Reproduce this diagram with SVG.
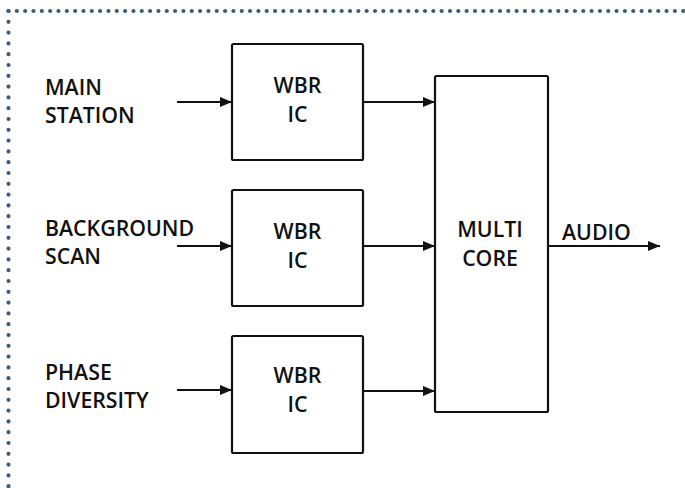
<svg xmlns="http://www.w3.org/2000/svg" width="685" height="488" viewBox="0 0 685 488">
<style>
.box{fill:#fff;stroke:#111;stroke-width:2.2}
.t{font-family:"Open Sans","Noto Sans",sans-serif;font-size:21.3px;font-weight:600;fill:#111}
.c{text-anchor:middle}
.ln{stroke:#111;stroke-width:2.2;fill:none}
.dot{stroke:#3d5b7b;stroke-width:4.2;stroke-linecap:round;fill:none}
</style>
<defs>
<marker id="ah" viewBox="0 0 12 10" refX="12" refY="5" markerWidth="12" markerHeight="10" markerUnits="userSpaceOnUse" orient="auto">
<path d="M0,0 L12,5 L0,10 z" fill="#111"/>
</marker>
</defs>
<rect width="685" height="488" fill="#fff"/>
<g id="border">
<line class="dot" x1="8.5" y1="11" x2="685" y2="11" stroke-dasharray="0 8.33"/>
<line class="dot" x1="8.5" y1="11" x2="8.5" y2="488" stroke-dasharray="0 10.8"/>
</g>
<g id="labels">
<text class="t" x="45" y="95">MAIN</text>
<text class="t" x="45" y="123">STATION</text>
<text class="t" x="45" y="236">BACKGROUND</text>
<text class="t" x="45" y="264">SCAN</text>
<text class="t" x="45" y="380">PHASE</text>
<text class="t" x="45" y="408">DIVERSITY</text>
<text class="t" x="562" y="240">AUDIO</text>
</g>
<g id="wbr1">
<rect class="box" x="232" y="44" width="131" height="116" rx="1.5"/>
<text class="t c" x="297.5" y="93">WBR</text>
<text class="t c" x="297.5" y="122">IC</text>
</g>
<g id="wbr2">
<rect class="box" x="232" y="190" width="131" height="116" rx="1.5"/>
<text class="t c" x="297.5" y="239">WBR</text>
<text class="t c" x="297.5" y="268">IC</text>
</g>
<g id="wbr3">
<rect class="box" x="232" y="336" width="131" height="117" rx="1.5"/>
<text class="t c" x="297.5" y="383">WBR</text>
<text class="t c" x="297.5" y="412">IC</text>
</g>
<g id="multicore">
<rect class="box" x="435" y="76" width="113" height="336" rx="1.5"/>
<text class="t c" x="490" y="237">MULTI</text>
<text class="t c" x="490" y="266">CORE</text>
</g>
<g id="connectors">
<line class="ln" x1="177" y1="102" x2="232" y2="102" marker-end="url(#ah)"/>
<line class="ln" x1="177" y1="246" x2="232" y2="246" marker-end="url(#ah)"/>
<line class="ln" x1="177" y1="390" x2="232" y2="390" marker-end="url(#ah)"/>
<line class="ln" x1="363" y1="102" x2="435" y2="102" marker-end="url(#ah)"/>
<line class="ln" x1="363" y1="246" x2="435" y2="246" marker-end="url(#ah)"/>
<line class="ln" x1="363" y1="391" x2="435" y2="391" marker-end="url(#ah)"/>
<line class="ln" x1="548" y1="246" x2="660" y2="246" marker-end="url(#ah)"/>
</g>
</svg>
